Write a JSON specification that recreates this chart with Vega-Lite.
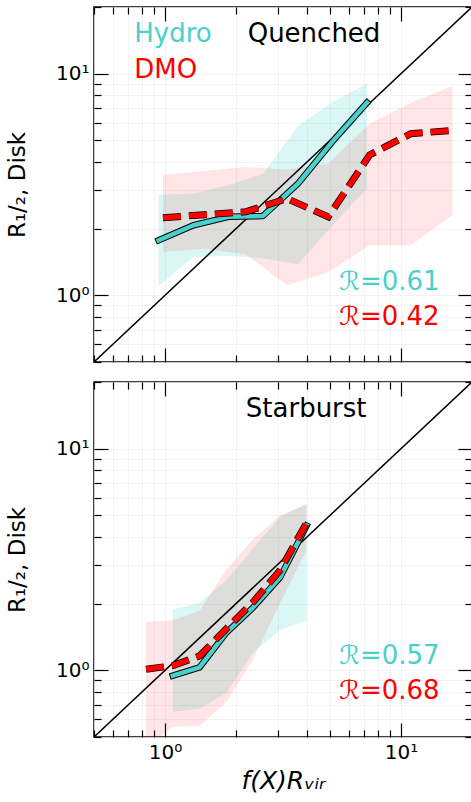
{
  "$schema": "https://vega.github.io/schema/vega-lite/v6.json",
  "background": "white",
  "padding": 5,
  "spacing": 16,
  "config": {
    "font": "DejaVu Sans",
    "view": {"stroke": "black", "strokeWidth": 1.5},
    "axis": {"labelFont": "DejaVu Sans", "titleFont": "DejaVu Sans", "labelColor": "black", "titleColor": "black", "titleFontWeight": "normal"}
  },
  "datasets": {
    "stats": [
      {"panel": "top", "sim": "Hydro", "x": 0.94, "med": 1.77, "lo": 1.10, "hi": 2.84},
      {"panel": "top", "sim": "Hydro", "x": 1.32, "med": 2.07, "lo": 1.49, "hi": 2.87},
      {"panel": "top", "sim": "Hydro", "x": 1.853, "med": 2.26, "lo": 1.51, "hi": 3.14},
      {"panel": "top", "sim": "Hydro", "x": 2.60, "med": 2.28, "lo": 1.47, "hi": 3.53},
      {"panel": "top", "sim": "Hydro", "x": 3.65, "med": 3.18, "lo": 1.38, "hi": 5.80},
      {"panel": "top", "sim": "Hydro", "x": 5.13, "med": 4.95, "lo": 2.07, "hi": 7.45},
      {"panel": "top", "sim": "Hydro", "x": 7.18, "med": 7.40, "lo": 3.03, "hi": 9.00},
      {"panel": "top", "sim": "DMO", "x": 0.98, "med": 2.24, "lo": 1.57, "hi": 3.50},
      {"panel": "top", "sim": "DMO", "x": 1.467, "med": 2.31, "lo": 1.62, "hi": 3.64},
      {"panel": "top", "sim": "DMO", "x": 2.196, "med": 2.38, "lo": 1.53, "hi": 3.79},
      {"panel": "top", "sim": "DMO", "x": 3.29, "med": 2.73, "lo": 1.11, "hi": 3.70},
      {"panel": "top", "sim": "DMO", "x": 4.92, "med": 2.26, "lo": 1.27, "hi": 3.92},
      {"panel": "top", "sim": "DMO", "x": 7.37, "med": 4.30, "lo": 1.68, "hi": 5.95},
      {"panel": "top", "sim": "DMO", "x": 11.0, "med": 5.36, "lo": 1.68, "hi": 7.40},
      {"panel": "top", "sim": "DMO", "x": 16.5, "med": 5.55, "lo": 2.30, "hi": 8.80},
      {"panel": "bottom", "sim": "Hydro", "x": 1.079, "med": 0.946, "lo": 0.65, "hi": 1.88},
      {"panel": "bottom", "sim": "Hydro", "x": 1.40, "med": 1.03, "lo": 0.67, "hi": 2.02},
      {"panel": "bottom", "sim": "Hydro", "x": 1.82, "med": 1.48, "lo": 0.79, "hi": 2.55},
      {"panel": "bottom", "sim": "Hydro", "x": 2.36, "med": 1.92, "lo": 1.20, "hi": 3.55},
      {"panel": "bottom", "sim": "Hydro", "x": 3.07, "med": 2.62, "lo": 1.52, "hi": 4.90},
      {"panel": "bottom", "sim": "Hydro", "x": 3.98, "med": 4.50, "lo": 1.68, "hi": 5.65},
      {"panel": "bottom", "sim": "DMO", "x": 0.831, "med": 1.01, "lo": 0.45, "hi": 1.65},
      {"panel": "bottom", "sim": "DMO", "x": 1.079, "med": 1.05, "lo": 0.556, "hi": 1.68},
      {"panel": "bottom", "sim": "DMO", "x": 1.40, "med": 1.16, "lo": 0.56, "hi": 1.85},
      {"panel": "bottom", "sim": "DMO", "x": 1.82, "med": 1.54, "lo": 0.72, "hi": 2.85},
      {"panel": "bottom", "sim": "DMO", "x": 2.36, "med": 2.03, "lo": 1.12, "hi": 3.90},
      {"panel": "bottom", "sim": "DMO", "x": 3.07, "med": 2.82, "lo": 2.00, "hi": 5.00},
      {"panel": "bottom", "sim": "DMO", "x": 3.98, "med": 4.63, "lo": 3.50, "hi": 5.60}
    ],
    "diag": [{"x": 0.5, "y": 0.5}, {"x": 20, "y": 20}],
    "notes": [
      {"panel": "top", "series": "Hydro", "label": "Hydro", "x": 0.741, "y": 13.9},
      {"panel": "top", "series": "DMO", "label": "DMO", "x": 0.741, "y": 9.55},
      {"panel": "top", "series": "label", "label": "Quenched", "x": 2.24, "y": 13.9},
      {"panel": "top", "series": "Hydro", "label": "ℛ=0.61", "x": 5.47, "y": 1.053},
      {"panel": "top", "series": "DMO", "label": "ℛ=0.42", "x": 5.47, "y": 0.732},
      {"panel": "bottom", "series": "label", "label": "Starburst", "x": 2.20, "y": 13.9},
      {"panel": "bottom", "series": "Hydro", "label": "ℛ=0.57", "x": 5.47, "y": 1.07},
      {"panel": "bottom", "series": "DMO", "label": "ℛ=0.68", "x": 5.47, "y": 0.745}
    ]
  },
  "vconcat": [
    {
      "width": 378,
      "height": 355,
      "resolve": {"axis": {"x": "independent", "y": "independent"}},
      "layer": [
        {
          "data": {"name": "stats"},
          "transform": [{"filter": "datum.panel == 'top' && datum.sim == 'Hydro'"}],
          "mark": {"type": "area", "color": "#48D1CC", "opacity": 0.2, "clip": true},
          "encoding": {
            "x": {"field": "x", "type": "quantitative", "scale": {"type": "log", "domain": [0.5, 20], "nice": false},
              "axis": {"orient": "bottom", "values": [0.5, 0.6, 0.7, 0.8, 0.9, 1, 2, 3, 4, 5, 6, 7, 8, 9, 10, 20], "tickSize": {"condition": {"test": "datum.value == 1 || datum.value == 10", "value": -14}, "value": -7}, "tickColor": "black", "tickWidth": 1.2, "labels": false, "grid": true, "gridColor": "#efefef", "gridWidth": 0.8, "domain": false, "title": null}},
            "y": {"field": "lo", "type": "quantitative", "scale": {"type": "log", "domain": [0.5, 20], "nice": false},
              "axis": {"orient": "left", "values": [0.5, 0.6, 0.7, 0.8, 0.9, 1, 2, 3, 4, 5, 6, 7, 8, 9, 10, 20], "tickSize": {"condition": {"test": "datum.value == 1 || datum.value == 10", "value": -14}, "value": -7}, "tickColor": "black", "tickWidth": 1.2, "labelExpr": "datum.value == 1 ? '10⁰' : datum.value == 10 ? '10¹' : ''", "labelFontSize": {"condition": {"test": "datum.value == 1 || datum.value == 10", "value": 20}, "value": 0}, "labelPadding": 19, "labelOverlap": false, "labelBound": false, "labelFlush": false, "grid": true, "gridColor": "#efefef", "gridWidth": 0.8, "domain": false, "title": "R₁/₂, Disk", "titleFontSize": 23, "titlePadding": 26}},
            "y2": {"field": "hi"}
          }
        },
        {
          "data": {"name": "stats"},
          "transform": [{"filter": "datum.panel == 'top' && datum.sim == 'DMO'"}],
          "mark": {"type": "area", "color": "#FF0000", "opacity": 0.1, "clip": true},
          "encoding": {
            "x": {"field": "x", "type": "quantitative", "scale": {"type": "log", "domain": [0.5, 20], "nice": false}, "axis": null},
            "y": {"field": "lo", "type": "quantitative", "scale": {"type": "log", "domain": [0.5, 20], "nice": false}, "axis": null},
            "y2": {"field": "hi"}
          }
        },
        {
          "data": {"name": "diag"},
          "mark": {"type": "line", "color": "black", "strokeWidth": 1.5, "clip": true},
          "encoding": {
            "x": {"field": "x", "type": "quantitative", "scale": {"type": "log", "domain": [0.5, 20], "nice": false}, "axis": null},
            "y": {"field": "y", "type": "quantitative", "scale": {"type": "log", "domain": [0.5, 20], "nice": false}, "axis": null}
          }
        },
        {
          "data": {"name": "stats"},
          "transform": [{"filter": "datum.panel == 'top' && datum.sim == 'Hydro'"}],
          "mark": {"type": "line", "color": "black", "strokeWidth": 6.5, "strokeCap": "square", "strokeJoin": "round", "clip": true},
          "encoding": {
            "x": {"field": "x", "type": "quantitative", "scale": {"type": "log", "domain": [0.5, 20], "nice": false}, "axis": null},
            "y": {"field": "med", "type": "quantitative", "scale": {"type": "log", "domain": [0.5, 20], "nice": false}, "axis": null}
          }
        },
        {
          "data": {"name": "stats"},
          "transform": [{"filter": "datum.panel == 'top' && datum.sim == 'Hydro'"}],
          "mark": {"type": "line", "color": "#48D1CC", "strokeWidth": 4.5, "strokeCap": "square", "strokeJoin": "round", "clip": true},
          "encoding": {
            "x": {"field": "x", "type": "quantitative", "scale": {"type": "log", "domain": [0.5, 20], "nice": false}, "axis": null},
            "y": {"field": "med", "type": "quantitative", "scale": {"type": "log", "domain": [0.5, 20], "nice": false}, "axis": null}
          }
        },
        {
          "data": {"name": "stats"},
          "transform": [{"filter": "datum.panel == 'top' && datum.sim == 'DMO'"}],
          "mark": {"type": "line", "color": "black", "strokeWidth": 7, "strokeDash": [18, 8], "clip": true},
          "encoding": {
            "x": {"field": "x", "type": "quantitative", "scale": {"type": "log", "domain": [0.5, 20], "nice": false}, "axis": null},
            "y": {"field": "med", "type": "quantitative", "scale": {"type": "log", "domain": [0.5, 20], "nice": false}, "axis": null}
          }
        },
        {
          "data": {"name": "stats"},
          "transform": [{"filter": "datum.panel == 'top' && datum.sim == 'DMO'"}],
          "mark": {"type": "line", "color": "#FF0000", "strokeWidth": 5.5, "strokeDash": [18, 8], "clip": true},
          "encoding": {
            "x": {"field": "x", "type": "quantitative", "scale": {"type": "log", "domain": [0.5, 20], "nice": false}, "axis": null},
            "y": {"field": "med", "type": "quantitative", "scale": {"type": "log", "domain": [0.5, 20], "nice": false}, "axis": null}
          }
        },
        {
          "data": {"name": "notes"},
          "transform": [{"filter": "datum.panel == 'top'"}],
          "mark": {"type": "text", "fontSize": 26, "align": "left", "baseline": "alphabetic", "font": "DejaVu Sans"},
          "encoding": {
            "x": {"field": "x", "type": "quantitative", "scale": {"type": "log", "domain": [0.5, 20], "nice": false}, "axis": null},
            "y": {"field": "y", "type": "quantitative", "scale": {"type": "log", "domain": [0.5, 20], "nice": false}, "axis": null},
            "text": {"field": "label"},
            "color": {"field": "series", "type": "nominal", "scale": {"domain": ["Hydro", "DMO", "label"], "range": ["#48D1CC", "#FF0000", "#000000"]}, "legend": null}
          }
        },
        {
          "data": {"name": "diag"},
          "mark": {"type": "line", "opacity": 0},
          "encoding": {
            "x": {"field": "x", "type": "quantitative", "scale": {"type": "log", "domain": [0.5, 20], "nice": false},
              "axis": {"orient": "top", "values": [0.5, 0.6, 0.7, 0.8, 0.9, 1, 2, 3, 4, 5, 6, 7, 8, 9, 10, 20], "tickSize": {"condition": {"test": "datum.value == 1 || datum.value == 10", "value": -14}, "value": -7}, "tickColor": "black", "tickWidth": 1.2, "labels": false, "grid": false, "domain": false, "title": null}},
            "y": {"field": "y", "type": "quantitative", "scale": {"type": "log", "domain": [0.5, 20], "nice": false},
              "axis": {"orient": "right", "values": [0.5, 0.6, 0.7, 0.8, 0.9, 1, 2, 3, 4, 5, 6, 7, 8, 9, 10, 20], "tickSize": {"condition": {"test": "datum.value == 1 || datum.value == 10", "value": -14}, "value": -7}, "tickColor": "black", "tickWidth": 1.2, "labels": false, "grid": false, "domain": false, "title": null}}
          }
        }
      ]
    },
    {
      "width": 378,
      "height": 355,
      "resolve": {"axis": {"x": "independent", "y": "independent"}},
      "layer": [
        {
          "data": {"name": "stats"},
          "transform": [{"filter": "datum.panel == 'bottom' && datum.sim == 'Hydro'"}],
          "mark": {"type": "area", "color": "#48D1CC", "opacity": 0.2, "clip": true},
          "encoding": {
            "x": {"field": "x", "type": "quantitative", "scale": {"type": "log", "domain": [0.5, 20], "nice": false},
              "axis": {"orient": "bottom", "values": [0.5, 0.6, 0.7, 0.8, 0.9, 1, 2, 3, 4, 5, 6, 7, 8, 9, 10, 20], "tickSize": {"condition": {"test": "datum.value == 1 || datum.value == 10", "value": -14}, "value": -7}, "tickColor": "black", "tickWidth": 1.2, "labelExpr": "datum.value == 1 ? '10⁰' : datum.value == 10 ? '10¹' : ''", "labelFontSize": {"condition": {"test": "datum.value == 1 || datum.value == 10", "value": 20}, "value": 0}, "labelPadding": 19, "labelOverlap": false, "labelBound": false, "labelFlush": false, "grid": true, "gridColor": "#efefef", "gridWidth": 0.8, "domain": false, "title": "f(X)Rᵥᵢᵣ", "titleFontSize": 25, "titleFontStyle": "italic", "titlePadding": 6}},
            "y": {"field": "lo", "type": "quantitative", "scale": {"type": "log", "domain": [0.5, 20], "nice": false},
              "axis": {"orient": "left", "values": [0.5, 0.6, 0.7, 0.8, 0.9, 1, 2, 3, 4, 5, 6, 7, 8, 9, 10, 20], "tickSize": {"condition": {"test": "datum.value == 1 || datum.value == 10", "value": -14}, "value": -7}, "tickColor": "black", "tickWidth": 1.2, "labelExpr": "datum.value == 1 ? '10⁰' : datum.value == 10 ? '10¹' : ''", "labelFontSize": {"condition": {"test": "datum.value == 1 || datum.value == 10", "value": 20}, "value": 0}, "labelPadding": 19, "labelOverlap": false, "labelBound": false, "labelFlush": false, "grid": true, "gridColor": "#efefef", "gridWidth": 0.8, "domain": false, "title": "R₁/₂, Disk", "titleFontSize": 23, "titlePadding": 26}},
            "y2": {"field": "hi"}
          }
        },
        {
          "data": {"name": "stats"},
          "transform": [{"filter": "datum.panel == 'bottom' && datum.sim == 'DMO'"}],
          "mark": {"type": "area", "color": "#FF0000", "opacity": 0.1, "clip": true},
          "encoding": {
            "x": {"field": "x", "type": "quantitative", "scale": {"type": "log", "domain": [0.5, 20], "nice": false}, "axis": null},
            "y": {"field": "lo", "type": "quantitative", "scale": {"type": "log", "domain": [0.5, 20], "nice": false}, "axis": null},
            "y2": {"field": "hi"}
          }
        },
        {
          "data": {"name": "diag"},
          "mark": {"type": "line", "color": "black", "strokeWidth": 1.5, "clip": true},
          "encoding": {
            "x": {"field": "x", "type": "quantitative", "scale": {"type": "log", "domain": [0.5, 20], "nice": false}, "axis": null},
            "y": {"field": "y", "type": "quantitative", "scale": {"type": "log", "domain": [0.5, 20], "nice": false}, "axis": null}
          }
        },
        {
          "data": {"name": "stats"},
          "transform": [{"filter": "datum.panel == 'bottom' && datum.sim == 'Hydro'"}],
          "mark": {"type": "line", "color": "black", "strokeWidth": 6.5, "strokeCap": "square", "strokeJoin": "round", "clip": true},
          "encoding": {
            "x": {"field": "x", "type": "quantitative", "scale": {"type": "log", "domain": [0.5, 20], "nice": false}, "axis": null},
            "y": {"field": "med", "type": "quantitative", "scale": {"type": "log", "domain": [0.5, 20], "nice": false}, "axis": null}
          }
        },
        {
          "data": {"name": "stats"},
          "transform": [{"filter": "datum.panel == 'bottom' && datum.sim == 'Hydro'"}],
          "mark": {"type": "line", "color": "#48D1CC", "strokeWidth": 4.5, "strokeCap": "square", "strokeJoin": "round", "clip": true},
          "encoding": {
            "x": {"field": "x", "type": "quantitative", "scale": {"type": "log", "domain": [0.5, 20], "nice": false}, "axis": null},
            "y": {"field": "med", "type": "quantitative", "scale": {"type": "log", "domain": [0.5, 20], "nice": false}, "axis": null}
          }
        },
        {
          "data": {"name": "stats"},
          "transform": [{"filter": "datum.panel == 'bottom' && datum.sim == 'DMO'"}],
          "mark": {"type": "line", "color": "black", "strokeWidth": 7, "strokeDash": [18, 8], "clip": true},
          "encoding": {
            "x": {"field": "x", "type": "quantitative", "scale": {"type": "log", "domain": [0.5, 20], "nice": false}, "axis": null},
            "y": {"field": "med", "type": "quantitative", "scale": {"type": "log", "domain": [0.5, 20], "nice": false}, "axis": null}
          }
        },
        {
          "data": {"name": "stats"},
          "transform": [{"filter": "datum.panel == 'bottom' && datum.sim == 'DMO'"}],
          "mark": {"type": "line", "color": "#FF0000", "strokeWidth": 5.5, "strokeDash": [18, 8], "clip": true},
          "encoding": {
            "x": {"field": "x", "type": "quantitative", "scale": {"type": "log", "domain": [0.5, 20], "nice": false}, "axis": null},
            "y": {"field": "med", "type": "quantitative", "scale": {"type": "log", "domain": [0.5, 20], "nice": false}, "axis": null}
          }
        },
        {
          "data": {"name": "notes"},
          "transform": [{"filter": "datum.panel == 'bottom'"}],
          "mark": {"type": "text", "fontSize": 26, "align": "left", "baseline": "alphabetic", "font": "DejaVu Sans"},
          "encoding": {
            "x": {"field": "x", "type": "quantitative", "scale": {"type": "log", "domain": [0.5, 20], "nice": false}, "axis": null},
            "y": {"field": "y", "type": "quantitative", "scale": {"type": "log", "domain": [0.5, 20], "nice": false}, "axis": null},
            "text": {"field": "label"},
            "color": {"field": "series", "type": "nominal", "scale": {"domain": ["Hydro", "DMO", "label"], "range": ["#48D1CC", "#FF0000", "#000000"]}, "legend": null}
          }
        },
        {
          "data": {"name": "diag"},
          "mark": {"type": "line", "opacity": 0},
          "encoding": {
            "x": {"field": "x", "type": "quantitative", "scale": {"type": "log", "domain": [0.5, 20], "nice": false},
              "axis": {"orient": "top", "values": [0.5, 0.6, 0.7, 0.8, 0.9, 1, 2, 3, 4, 5, 6, 7, 8, 9, 10, 20], "tickSize": {"condition": {"test": "datum.value == 1 || datum.value == 10", "value": -14}, "value": -7}, "tickColor": "black", "tickWidth": 1.2, "labels": false, "grid": false, "domain": false, "title": null}},
            "y": {"field": "y", "type": "quantitative", "scale": {"type": "log", "domain": [0.5, 20], "nice": false},
              "axis": {"orient": "right", "values": [0.5, 0.6, 0.7, 0.8, 0.9, 1, 2, 3, 4, 5, 6, 7, 8, 9, 10, 20], "tickSize": {"condition": {"test": "datum.value == 1 || datum.value == 10", "value": -14}, "value": -7}, "tickColor": "black", "tickWidth": 1.2, "labels": false, "grid": false, "domain": false, "title": null}}
          }
        }
      ]
    }
  ]
}
